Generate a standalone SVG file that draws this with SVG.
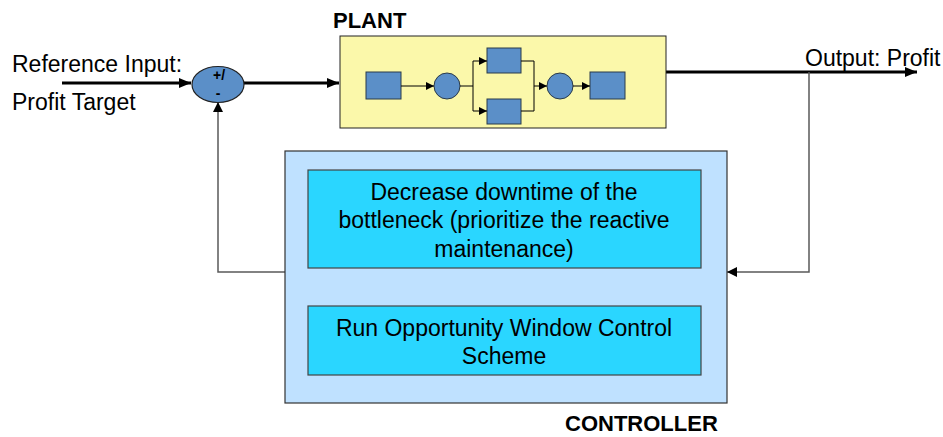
<svg xmlns="http://www.w3.org/2000/svg" width="943" height="437" viewBox="0 0 943 437">
  <defs>
    <style>
      text { font-family: "Liberation Sans", Arial, sans-serif; fill: #000; }
      .lbl { font-size: 23px; }
      .title { font-size: 22px; font-weight: bold; }
      .ctl { font-size: 23px; text-anchor: middle; }
      .sum { font-size: 14px; font-weight: bold; text-anchor: middle; }
      .main { stroke: #000; stroke-width: 3; fill: none; }
      .fb { stroke: #5a5a5a; stroke-width: 1.5; fill: none; }
      .thin { stroke: #000; stroke-width: 1; fill: none; }
      .blk { fill: #5b8fc8; stroke: #2a3a4a; stroke-width: 1; }
    </style>
    <marker id="bigArrow" markerUnits="userSpaceOnUse" markerWidth="12" markerHeight="10" refX="12" refY="5" orient="auto">
      <path d="M0,0 L12,5 L0,10 Z" fill="#000"/>
    </marker>
    <marker id="fbArrow" markerUnits="userSpaceOnUse" markerWidth="10" markerHeight="10" refX="10" refY="5" orient="auto">
      <path d="M0,0 L10,5 L0,10 Z" fill="#000"/>
    </marker>
    <marker id="smallArrow" markerUnits="userSpaceOnUse" markerWidth="8" markerHeight="8" refX="8" refY="4" orient="auto">
      <path d="M0,0 L8,4 L0,8 Z" fill="#000"/>
    </marker>
  </defs>

  <rect width="943" height="437" fill="#fff"/>

  <!-- signal labels -->
  <g id="labels">
    <text class="lbl" x="12" y="72">Reference Input:</text>
    <text class="lbl" x="12" y="110">Profit Target</text>
    <text class="lbl" x="805" y="66">Output: Profit</text>
  </g>

  <!-- connectors -->
  <g id="connectors">
    <path class="main" d="M62,83 H191" marker-end="url(#bigArrow)"/>
    <path class="main" d="M244,83 H339" marker-end="url(#bigArrow)"/>
    <path class="main" d="M666,72 H917" marker-end="url(#bigArrow)"/>
    <path class="fb" d="M809,72 V272 H727" marker-end="url(#fbArrow)"/>
    <path class="fb" d="M285,272 H218 V102" marker-end="url(#fbArrow)"/>
  </g>

  <!-- summing junction -->
  <g id="sum">
    <ellipse cx="218" cy="84.5" rx="26" ry="18" fill="#5b8fc8" stroke="#222" stroke-width="1.2"/>
    <text class="sum" x="219" y="80">+/</text>
    <text class="sum" x="218" y="98">-</text>
  </g>

  <!-- plant -->
  <g id="plant">
    <text class="title" x="333" y="28">PLANT</text>
    <rect x="340" y="36" width="326" height="92" fill="#fbf8aa" stroke="#222" stroke-width="1"/>
    <rect class="blk" x="366" y="72" width="35" height="27"/>
    <circle class="blk" cx="447" cy="86" r="13"/>
    <rect class="blk" x="487" y="48" width="34" height="25"/>
    <rect class="blk" x="487" y="99" width="34" height="25"/>
    <circle class="blk" cx="560" cy="86" r="13"/>
    <rect class="blk" x="590" y="72" width="35" height="27"/>
    <path class="thin" d="M401,86 H434" marker-end="url(#smallArrow)"/>
    <path class="thin" d="M460,86 H473 M473,61 V111"/>
    <path class="thin" d="M473,61 H487" marker-end="url(#smallArrow)"/>
    <path class="thin" d="M473,111 H487" marker-end="url(#smallArrow)"/>
    <path class="thin" d="M521,61 H534 V111 H521"/>
    <path class="thin" d="M534,86 H547" marker-end="url(#smallArrow)"/>
    <path class="thin" d="M573,86 H590" marker-end="url(#smallArrow)"/>
  </g>

  <!-- controller -->
  <g id="controller">
    <rect x="285" y="151" width="442" height="252" fill="#bfe1ff" stroke="#333" stroke-width="1.2"/>
    <text class="title" x="565" y="431">CONTROLLER</text>
  </g>
  <g id="ctl-downtime">
    <rect x="308" y="170" width="393" height="98" fill="#2ad6ff" stroke="#444" stroke-width="1.2"/>
    <text class="ctl" x="504" y="200">Decrease downtime of the</text>
    <text class="ctl" x="504" y="228">bottleneck (prioritize the reactive</text>
    <text class="ctl" x="504" y="257">maintenance)</text>
  </g>
  <g id="ctl-window">
    <rect x="308" y="306" width="393" height="69" fill="#2ad6ff" stroke="#444" stroke-width="1.2"/>
    <text class="ctl" x="504" y="336">Run Opportunity Window Control</text>
    <text class="ctl" x="504" y="364">Scheme</text>
  </g>
</svg>
